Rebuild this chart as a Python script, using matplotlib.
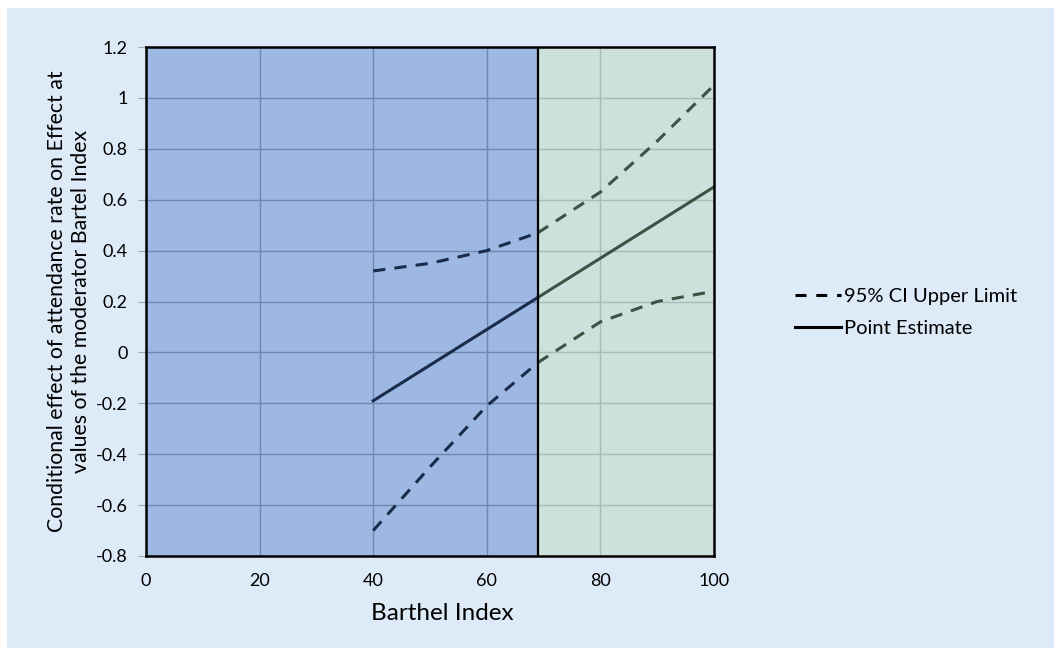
import matplotlib
matplotlib.use("Agg")
import matplotlib.pyplot as plt
from matplotlib.patches import Rectangle

plt.rcParams['font.family'] = ['Lato', 'DejaVu Sans']

# data
barthel = [40, 50, 60, 69, 80, 90, 100]
upper = [0.32, 0.35, 0.40, 0.47, 0.63, 0.83, 1.05]
point = [-0.19, -0.05, 0.09, 0.216, 0.37, 0.51, 0.65]
lower = [-0.70, -0.45, -0.21, -0.04, 0.12, 0.20, 0.24]
split = 69  # border between the two shaded regions

xticks = [0, 20, 40, 60, 80, 100]
yticks = [-0.8, -0.6, -0.4, -0.2, 0, 0.2, 0.4, 0.6, 0.8, 1, 1.2]
ytick_labels = ["-0.8", "-0.6", "-0.4", "-0.2", "0", "0.2", "0.4", "0.6", "0.8", "1", "1.2"]

fig = plt.figure(figsize=(10.54, 6.48), dpi=100, facecolor="white")
fig.patches.append(Rectangle((7/1054, 0), 1, 1 - 8/648, transform=fig.transFigure,
                             facecolor="#DDEAF7", edgecolor="none", zorder=-10))

ax = fig.add_axes([146/1054, 1 - 556/648, (714 - 146)/1054, (556 - 47)/648])
ax.set_xlim(0, 100)
ax.set_ylim(-0.8, 1.2)

# shaded regions
ax.axvspan(0, split, facecolor="#9DB8E2", edgecolor="none", zorder=0)
ax.axvspan(split, 100, facecolor="#CDE1DC", edgecolor="none", zorder=0)

# grid lines, coloured per region
for y in yticks:
    ax.plot([0, split], [y, y], color="#6E88B0", lw=1, zorder=1)
    ax.plot([split, 100], [y, y], color="#A5BDB4", lw=1, zorder=1)
for x in xticks:
    c = "#6E88B0" if x < split else "#A5BDB4"
    ax.axvline(x, color=c, lw=1, zorder=1)

ax.axvline(split, color="black", lw=1.6, zorder=3)

# lines: split at the region border so they take the region tint
def pieces(xs, ys):
    left = [(x, y) for x, y in zip(xs, ys) if x <= split]
    right = [(x, y) for x, y in zip(xs, ys) if x >= split]
    return zip(*left), zip(*right)

blue_c = "#1B2B4A"
green_c = "#3A5444"
for ys, ls in [(upper, (0, (4, 3))), (lower, (0, (4, 3))), (point, "-")]:
    (lx, ly), (rx, ry) = pieces(barthel, ys)
    ax.plot(lx, ly, color=blue_c, lw=2.2, linestyle=ls, zorder=2)
    ax.plot(rx, ry, color=green_c, lw=2.2, linestyle=ls, zorder=2)

# legend proxies
ax.plot([], [], color="black", lw=2.2, linestyle=(0, (3.6, 3.2)), label="95% CI Upper Limit")
ax.plot([], [], color="black", lw=2.2, linestyle="-", label="Point Estimate")
leg = ax.legend(loc="center left", bbox_to_anchor=(1.128, 0.478), frameon=False,
                fontsize=14.5, handlelength=2.3, handletextpad=0.15, labelspacing=0.75,
                borderaxespad=0)

for s in ax.spines.values():
    s.set_color("black")
    s.set_linewidth(1.8)
    s.set_zorder(4)

ax.set_xticks(xticks)
ax.set_yticks(yticks)
ax.set_yticklabels(ytick_labels)
ax.tick_params(axis="y", length=6, color="#A0A8B0", labelsize=13, pad=7)
ax.tick_params(axis="x", length=0, labelsize=13, pad=12)

ax.set_xlabel("Barthel Index", fontsize=17.5)
ax.xaxis.set_label_coords(0.522, -0.093)
ax.set_ylabel("Conditional effect of attendance rate on Effect at\nvalues of the moderator Bartel Index",
              fontsize=15.3, labelpad=4)

fig.savefig("out.png", dpi=100, facecolor=fig.get_facecolor())
